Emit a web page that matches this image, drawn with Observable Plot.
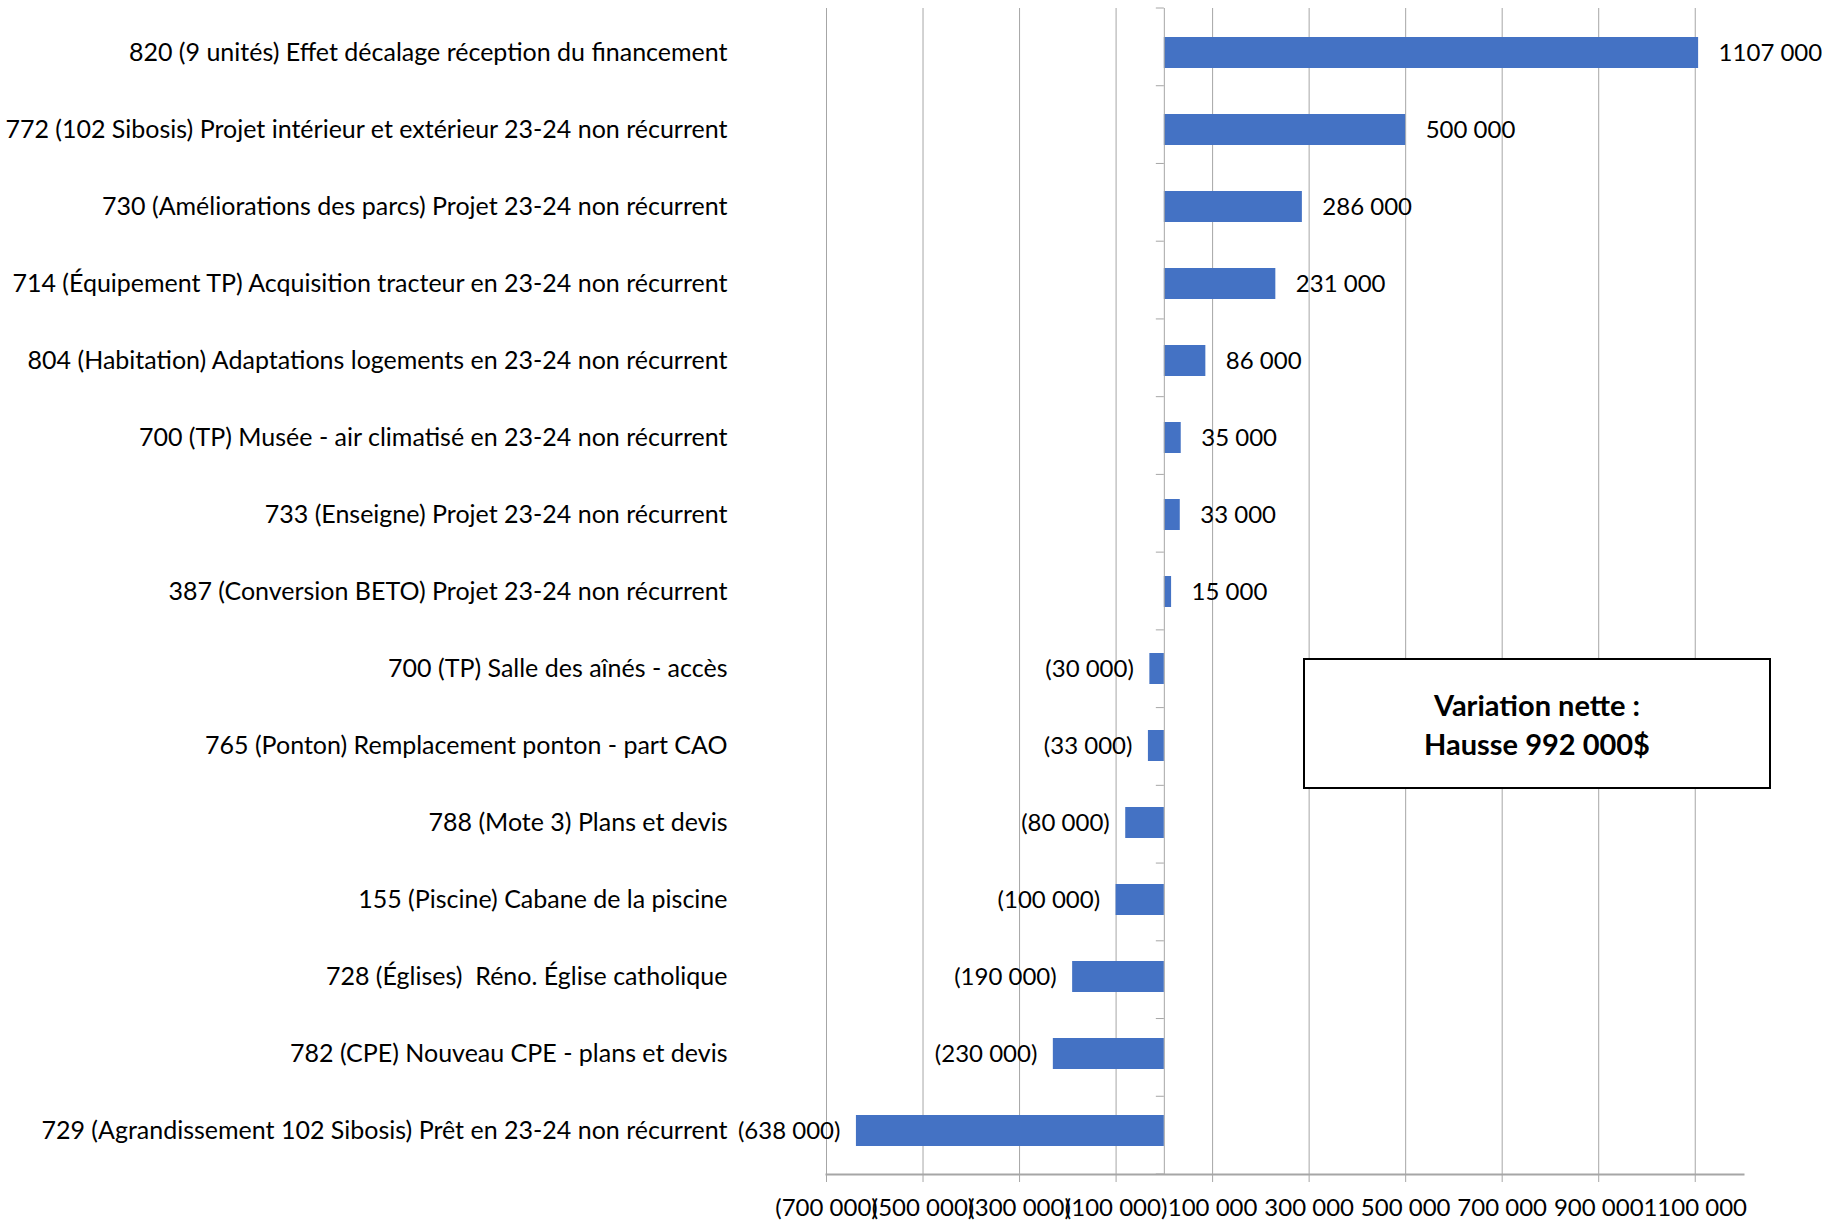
<!DOCTYPE html>
<html>
<head>
<meta charset="utf-8">
<script src="https://cdn.jsdelivr.net/npm/d3@7"></script>
<script src="https://cdn.jsdelivr.net/npm/@observablehq/plot@0.6"></script>
<style>
  html, body { margin: 0; padding: 0; background: #fff; }
  #wrap { position: relative; width: 1822px; height: 1220px; }
  #note {
    position: absolute; left: 1303px; top: 658px; width: 464px; height: 127px;
    border: 2px solid #000; background: #fff; box-sizing: content-box;
    display: flex; flex-direction: column; justify-content: center; align-items: center;
    font-family: Lato, sans-serif; font-weight: bold; font-size: 29px; line-height: 39px; color: #000;
  }
</style>
</head>
<body>
<div id="wrap"><div id="note"><div>Variation nette :</div><div>Hausse 992 000$</div></div></div>
<script>
const categories = [
  "820 (9 unités) Effet décalage réception du financement",
  "772 (102 Sibosis) Projet intérieur et extérieur 23-24 non récurrent",
  "730 (Améliorations des parcs) Projet 23-24 non récurrent",
  "714 (Équipement TP) Acquisition tracteur en 23-24 non récurrent",
  "804 (Habitation) Adaptations logements en 23-24 non récurrent",
  "700 (TP) Musée - air climatisé en 23-24 non récurrent",
  "733 (Enseigne) Projet 23-24 non récurrent",
  "387 (Conversion BETO) Projet 23-24 non récurrent",
  "700 (TP) Salle des aînés - accès",
  "765 (Ponton) Remplacement ponton - part CAO",
  "788 (Mote 3) Plans et devis",
  "155 (Piscine) Cabane de la piscine",
  "728 (Églises)  Réno. Église catholique",
  "782 (CPE) Nouveau CPE - plans et devis",
  "729 (Agrandissement 102 Sibosis) Prêt en 23-24 non récurrent"
];
const values = [1107000, 500000, 286000, 231000, 86000, 35000, 33000, 15000,
  -30000, -33000, -80000, -100000, -190000, -230000, -638000];
const xTicks = [-700000, -500000, -300000, -100000, 100000, 300000, 500000, 700000, 900000, 1100000];
const xTickLabels = ["(700 000)", "(500 000)", "(300 000)", "(100 000)", "100 000", "300 000", "500 000", "700 000", "900 000", "1100 000"];

const data = categories.map((c, i) => ({label: c, value: values[i]}));
const fmt = v => {
  const a = Math.abs(v);
  const s = Math.floor(a / 1000) + " " + String(a % 1000).padStart(3, "0");
  return v < 0 ? "(" + s + ")" : s;
};
const FONT = "Lato, sans-serif";
const GRID = "#a6a6a6";

function bandTicks(index, scales, values, dims) {
  const g = d3.create("svg:g").attr("stroke", GRID).attr("stroke-width", 1);
  const x0 = scales.x(0);
  const inner = dims.height - dims.marginTop - dims.marginBottom;
  const step = inner / categories.length;
  for (let k = 0; k <= categories.length; k++) {
    const y = dims.marginTop + k * step;
    g.append("line").attr("x1", x0 - 8).attr("x2", x0).attr("y1", y).attr("y2", y);
  }
  return g.node();
}

const chart = Plot.plot({
  width: 1822,
  height: 1220,
  marginLeft: 826,
  marginRight: 79,
  marginTop: 8,
  marginBottom: 46,
  style: {fontFamily: FONT, fontSize: "24px", color: "#000", background: "#fff"},
  x: {domain: [-700000, 1200000], axis: null, label: null},
  y: {domain: categories, paddingInner: 0.6, paddingOuter: 0.3, axis: null},
  marks: [
    Plot.gridX(xTicks, {stroke: GRID, strokeOpacity: 1, strokeWidth: 1}),
    Plot.frame({anchor: "bottom", stroke: GRID, strokeWidth: 2}),
    Plot.axisX(xTicks, {
      tickFormat: (d, i) => xTickLabels[xTicks.indexOf(d)],
      tickSize: 8, tickPadding: 16, stroke: GRID, fill: "#000",
      fontSize: 24, fontFamily: FONT, label: null
    }),
    Plot.barX(data, {x: "value", y: "label", fill: "#4472C4"}),
    Plot.ruleX([0], {stroke: GRID, strokeWidth: 1}),
    bandTicks,
    Plot.text(data, {y: "label", text: "label", frameAnchor: "left", textAnchor: "end", dx: -99, fill: "#000", fontSize: 25}),
    Plot.text(data.filter(d => d.value >= 0), {x: "value", y: "label", text: d => fmt(d.value), textAnchor: "start", dx: 20, fill: "#000", fontSize: 24}),
    Plot.text(data.filter(d => d.value < 0), {x: "value", y: "label", text: d => fmt(d.value), textAnchor: "end", dx: -16, fill: "#000", fontSize: 24})
  ]
});
document.getElementById("wrap").prepend(chart);
chart.style.position = "absolute";
chart.style.left = "0";
chart.style.top = "0";
</script>
</body>
</html>
